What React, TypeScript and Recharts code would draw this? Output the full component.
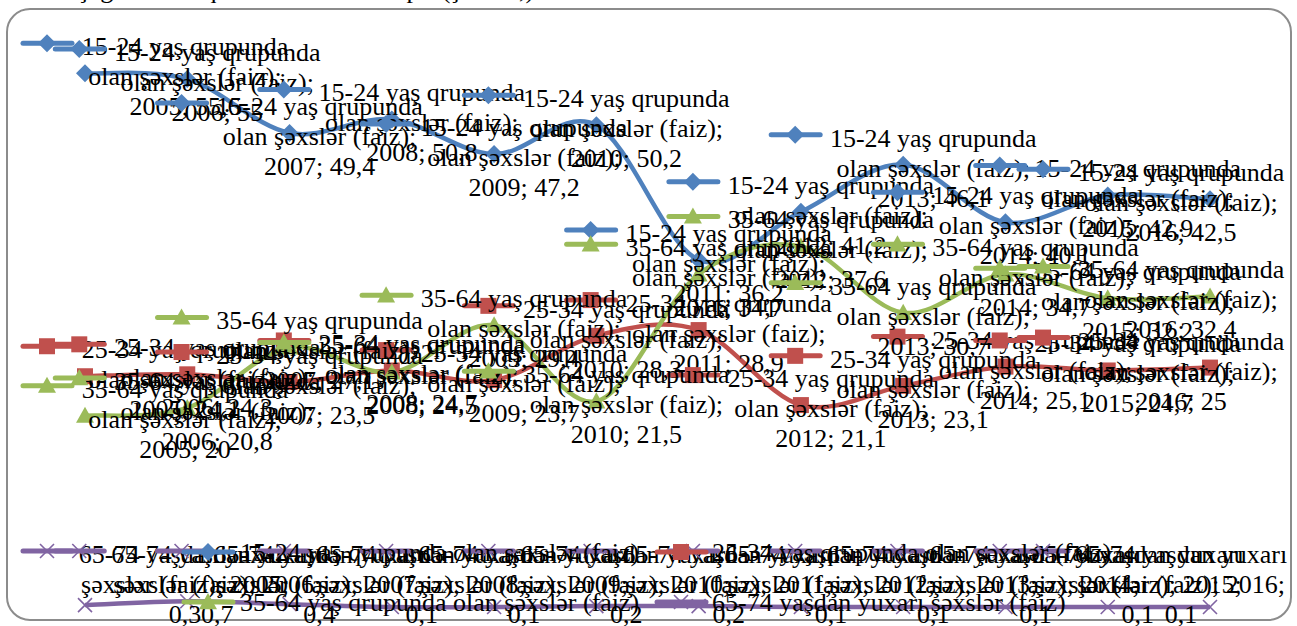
import { LineChart, Line, XAxis, YAxis, LabelList } from "recharts";

const years = ["2005", "2006", "2007", "2008", "2009", "2010", "2011", "2012", "2013", "2014", "2015", "2016"];
const age1524 = [55.6, 55, 49.4, 50.8, 47.2, 50.2, 36.2, 41.2, 46.1, 40.1, 42.9, 42.5];
const age2534 = [24.1, 24.3, 23.5, 24.7, 23.7, 28.3, 28.9, 21.1, 23.1, 25.1, 24.7, 25];
const age3564 = [20, 20.8, 27.1, 24.5, 29.4, 21.5, 34.7, 37.6, 30.7, 34.7, 32.2, 32.4];
const age6574 = [0.3, 0.7, 0.4, 0.1, 0.1, 0.2, 0.2, 0.1, 0.1, 0.1, 0.1, 0.1];

const data = years.map((year, i) => ({
  year,
  a: age1524[i],
  b: age2534[i],
  c: age3564[i],
  d: age6574[i],
}));

const FONT = "'Liberation Serif', 'Times New Roman', serif";

type Series = {
  key: string;
  color: string;
  shape: string;
  legend: string;
  head: string;
  purple?: boolean;
};

const series: Series[] = [
  { key: "a", color: "#4f81bd", shape: "diamond", legend: "15-24 yaş qrupunda olan şəxslər (faiz)", head: "15-24 yaş qrupunda" },
  { key: "b", color: "#c0504d", shape: "square", legend: "25-34 yaş qrupunda olan şəxslər (faiz)", head: "25-34 yaş qrupunda" },
  { key: "c", color: "#9bbb59", shape: "triangle", legend: "35-64 yaş qrupunda olan şəxslər (faiz)", head: "35-64 yaş qrupunda" },
  { key: "d", color: "#8064a2", shape: "x", legend: "65-74 yaşdan yuxarı şəxslər (faiz)", head: "65-74 yaşdan yuxarı", purple: true },
];

const fmt = (v: number) => String(v).replace(".", ",");

// Excel-like smoothed line (cardinal spline, tension 1/6)
function excelSmooth(context: any) {
  let pts: number[][] = [];
  return {
    areaStart() {},
    areaEnd() {},
    lineStart() {
      pts = [];
    },
    point(x: number, y: number) {
      pts.push([+x, +y]);
    },
    lineEnd() {
      const n = pts.length;
      if (!n) return;
      context.moveTo(pts[0][0], pts[0][1]);
      const t = 1 / 6;
      for (let i = 0; i < n - 1; i++) {
        const p0 = pts[Math.max(i - 1, 0)];
        const p1 = pts[i];
        const p2 = pts[i + 1];
        const p3 = pts[Math.min(i + 2, n - 1)];
        context.bezierCurveTo(
          p1[0] + (p2[0] - p0[0]) * t,
          p1[1] + (p2[1] - p0[1]) * t,
          p2[0] - (p3[0] - p1[0]) * t,
          p2[1] - (p3[1] - p1[1]) * t,
          p2[0],
          p2[1]
        );
      }
    },
  };
}

function Marker({ shape, cx, cy, color }: any) {
  if (shape === "diamond") {
    const s = 9;
    return <polygon points={`${cx},${cy - s} ${cx + s},${cy} ${cx},${cy + s} ${cx - s},${cy}`} fill={color} />;
  }
  if (shape === "square") {
    const s = 8;
    return <rect x={cx - s} y={cy - s} width={s * 2} height={s * 2} fill={color} />;
  }
  if (shape === "triangle") {
    const s = 9;
    return <polygon points={`${cx},${cy - s} ${cx + s},${cy + s * 0.8} ${cx - s},${cy + s * 0.8}`} fill={color} />;
  }
  const s = 7;
  return (
    <path
      d={`M${cx - s},${cy - s}L${cx + s},${cy + s}M${cx - s},${cy + s}L${cx + s},${cy - s}`}
      stroke={color}
      strokeWidth={1.6}
      fill="none"
    />
  );
}

function LegendKey({ s, x, y }: { s: Series; x: number; y: number }) {
  return (
    <g>
      <line x1={x + 3} y1={y} x2={x + 52} y2={y} stroke={s.color} strokeWidth={5} strokeLinecap="round" />
      <Marker shape={s.shape} cx={x + 27} cy={y} color={s.color} />
    </g>
  );
}

const makeLabel = (s: Series) => (props: any) => {
  const { x, y, index, value } = props;
  if (x == null || y == null) return null;
  const year = years[index];
  const lines = s.purple
    ? [s.head, `şəxslər (faiz); ${year};`, fmt(value)]
    : [s.head, "olan şəxslər (faiz);", `${year}; ${fmt(value)}`];
  let left = x - 135;
  if (left < 20) left = 20;
  if (left + 272 > 1288) left = 1288 - 272;
  let c1 = y - 27;
  if (c1 + 60 > 616) c1 = 554;
  const tc = left + 60 + 105;
  return (
    <g key={`${s.key}-lab-${index}`}>
      <LegendKey s={s} x={left} y={c1 - 3} />
      {lines.map((t, i) => (
        <text
          key={i}
          x={tc}
          y={c1 + i * 30 + 9}
          textAnchor="middle"
          fontFamily={FONT}
          fontSize={26}
          fill="#000"
        >
          {t}
        </text>
      ))}
    </g>
  );
};

const makeDot = (s: Series) => (props: any) => {
  const { cx, cy, index } = props;
  return (
    <g key={`${s.key}-dot-${index}`}>
      <Marker shape={s.shape} cx={cx} cy={cy} color={s.color} />
    </g>
  );
};

const legendPos = [
  { x: 181, y: 552, tx: 240 },
  { x: 654, y: 552, tx: 712 },
  { x: 181, y: 602, tx: 240 },
  { x: 654, y: 602, tx: 712 },
];

export default function App() {
  return (
    <div style={{ position: "absolute", left: 0, top: 0, width: 1297, height: 626, overflow: "hidden", background: "#fff" }}>
      <div
        style={{
          position: "absolute",
          left: 0,
          top: -25,
          fontFamily: FONT,
          fontSize: 26,
          lineHeight: "30px",
          whiteSpace: "nowrap",
          color: "#000",
        }}
      >
        lenori aşağıdakı diaqramda öz əksini tapır (şəkil 1,).
      </div>
      <div
        style={{
          position: "absolute",
          left: 6,
          top: 8,
          width: 1286,
          height: 613,
          border: "2px solid #8c8c8c",
          borderRadius: 24,
          boxSizing: "border-box",
          background: "#fff",
        }}
      />
      <div style={{ position: "absolute", left: 0, top: 0 }}>
        <LineChart width={1297} height={626} data={data} margin={{ top: 31, right: 87, bottom: 18, left: 85 }}>
          <XAxis dataKey="year" hide />
          <YAxis hide domain={[0, 60]} />
          {series.map((s) => (
            <Line
              key={s.key}
              dataKey={s.key}
              type={excelSmooth as any}
              stroke={s.color}
              strokeWidth={4.5}
              dot={makeDot(s)}
              activeDot={false}
              isAnimationActive={false}
            />
          ))}
          {series.map((s) => (
            <Line
              key={`lab-${s.key}`}
              dataKey={s.key}
              stroke="none"
              dot={false}
              activeDot={false}
              isAnimationActive={false}
            >
              <LabelList dataKey={s.key} content={makeLabel(s)} />
            </Line>
          ))}
        </LineChart>
      </div>
      <svg width={1297} height={626} style={{ position: "absolute", left: 0, top: 0, pointerEvents: "none" }}>
        {series.map((s, i) => (
          <g key={s.key}>
            <LegendKey s={s} x={legendPos[i].x} y={legendPos[i].y} />
            <text x={legendPos[i].tx} y={legendPos[i].y + 9} fontFamily={FONT} fontSize={26} fill="#000">
              {s.legend}
            </text>
          </g>
        ))}
      </svg>
    </div>
  );
}
